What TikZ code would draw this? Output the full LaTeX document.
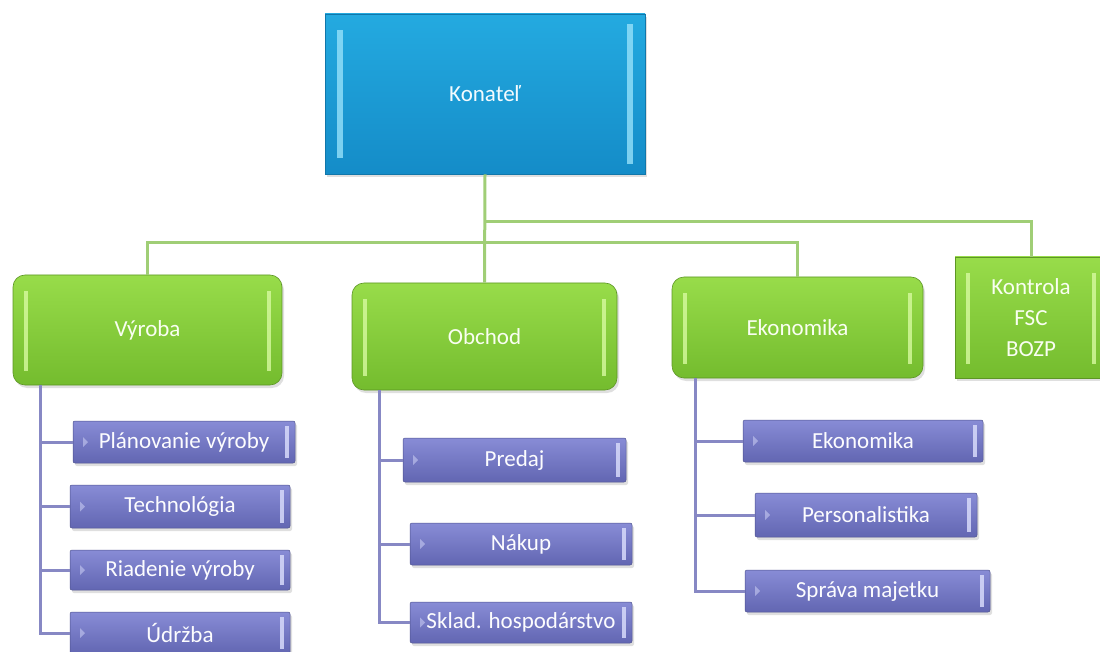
\documentclass[tikz,border=0pt]{standalone}
\usepackage{fontspec}
\setmainfont{Carlito}
\usetikzlibrary{shadows}
\definecolor{blueA}{RGB}{36,170,224}
\definecolor{blueB}{RGB}{20,140,200}
\definecolor{blueL}{RGB}{150,225,250}
\definecolor{grnA}{RGB}{152,220,74}
\definecolor{grnB}{RGB}{116,188,46}
\definecolor{grnL}{RGB}{215,250,160}
\definecolor{purA}{RGB}{136,140,214}
\definecolor{purB}{RGB}{98,102,178}
\definecolor{purL}{RGB}{215,218,250}
\definecolor{gconn}{RGB}{160,206,118}
\definecolor{pconn}{RGB}{135,136,196}
\tikzset{
  base/.style={font=\fontsize{23}{31}\selectfont, inner sep=0pt, align=center},
  topbox/.style={base, top color=blueA, bottom color=blueB, draw=blueB!85!black, line width=0.6pt,
    text=white!88!blueL,
    drop shadow={opacity=0.25, shadow xshift=2pt, shadow yshift=-3pt},
    path picture={
      \fill[sharp corners,blueL,opacity=.8] ([xshift=12pt,yshift=-16pt]path picture bounding box.north west) rectangle ([xshift=18pt,yshift=16pt]path picture bounding box.south west);
      \fill[sharp corners,blueL,opacity=.8] ([xshift=-12pt,yshift=-10pt]path picture bounding box.north east) rectangle ([xshift=-18pt,yshift=10pt]path picture bounding box.south east);
    }},
  grnbox/.style={base, rounded corners=12pt, top color=grnA, bottom color=grnB, draw=grnB!80!black, line width=0.6pt,
    text=white!85!grnL,
    drop shadow={opacity=0.25, shadow xshift=2pt, shadow yshift=-3pt},
    path picture={
      \fill[sharp corners,grnL,opacity=.8] ([xshift=11pt,yshift=-16pt]path picture bounding box.north west) rectangle ([xshift=15pt,yshift=14pt]path picture bounding box.south west);
      \fill[sharp corners,grnL,opacity=.8] ([xshift=-11pt,yshift=-16pt]path picture bounding box.north east) rectangle ([xshift=-15pt,yshift=14pt]path picture bounding box.south east);
    }},
  kbox/.style={grnbox, rounded corners=0pt},
  purbox/.style={base, rounded corners=2pt, top color=purA, bottom color=purB, draw=purB!80!black, line width=0.5pt,
    text=white!92!purL,
    drop shadow={opacity=0.25, shadow xshift=2pt, shadow yshift=-3pt},
    path picture={
      \fill[sharp corners,purL,opacity=.85] ([xshift=-6pt,yshift=-5pt]path picture bounding box.north east) rectangle ([xshift=-10pt,yshift=5pt]path picture bounding box.south east);
      \fill[sharp corners,purL,opacity=.5] ([xshift=10pt,yshift=5pt]path picture bounding box.west) -- ++(5pt,-5pt) -- ++(-5pt,-5pt) -- cycle;
    }},
  gline/.style={draw=gconn, line width=3pt},
  pline/.style={draw=pconn, line width=3pt}
}
\begin{document}
\begin{tikzpicture}[x=1pt,y=-1pt]
\useasboundingbox (0,0) rectangle (1100,652);
% top
\node[topbox, minimum width=320pt, minimum height=160pt] (kon) at (485,94) {Konateľ};
% second level
\node[grnbox, minimum width=269pt, minimum height=110pt] (vyr) at (147.5,330) {Výroba};
\node[grnbox, minimum width=265pt, minimum height=107pt] (obc) at (484.5,336.5) {Obchod};
\node[grnbox, minimum width=251pt, minimum height=101pt] (eko) at (797.5,327.5) {Ekonomika};
\node[kbox, minimum width=152pt, minimum height=121pt] (kont) at (1031,317.5) {Kontrola\\FSC\\BOZP};
% purple boxes
\node[purbox, minimum width=222pt, minimum height=42pt] (p1) at (184,442) {Plánovanie výroby};
\node[purbox, minimum width=220pt, minimum height=43pt] (p2) at (180,506.5) {Technológia};
\node[purbox, minimum width=220pt, minimum height=40pt] (p3) at (180,570) {Riadenie výroby};
\node[purbox, minimum width=220pt, minimum height=42pt] (p4) at (180,633) {Údržba};
\node[purbox, minimum width=223pt, minimum height=44pt] (o1) at (514.5,460) {Predaj};
\node[purbox, minimum width=222pt, minimum height=42pt] (o2) at (521,544) {Nákup};
\node[purbox, minimum width=222pt, minimum height=41pt] (o3) at (521,622.5) {Sklad. hospodárstvo};
\node[purbox, minimum width=240pt, minimum height=42pt] (e1) at (863,441) {Ekonomika};
\node[purbox, minimum width=222pt, minimum height=44pt] (e2) at (866,515) {Personalistika};
\node[purbox, minimum width=245pt, minimum height=42pt] (e3) at (867.5,591) {Správa majetku};
% connectors top
\coordinate (j1) at (485,222);
\coordinate (j2) at (485,243);
\draw[gline] (kon.south) -- (obc.north);
\draw[gline] (j1) -| (kont.north);
\draw[gline] (vyr.north) |- (j2) -| (eko.north);
% purple connectors
\coordinate (va) at (40,385);
\coordinate (vb) at (379,390);
\coordinate (vc) at (695,378);
\draw[pline] (va) |- (p4.west);
\draw[pline] (va |- p1.west) -- (p1.west);
\draw[pline] (va |- p2.west) -- (p2.west);
\draw[pline] (va |- p3.west) -- (p3.west);
\draw[pline] (vb) |- (o3.west);
\draw[pline] (vb |- o1.west) -- (o1.west);
\draw[pline] (vb |- o2.west) -- (o2.west);
\draw[pline] (vc) |- (e3.west);
\draw[pline] (vc |- e1.west) -- (e1.west);
\draw[pline] (vc |- e2.west) -- (e2.west);
\end{tikzpicture}
\end{document}
